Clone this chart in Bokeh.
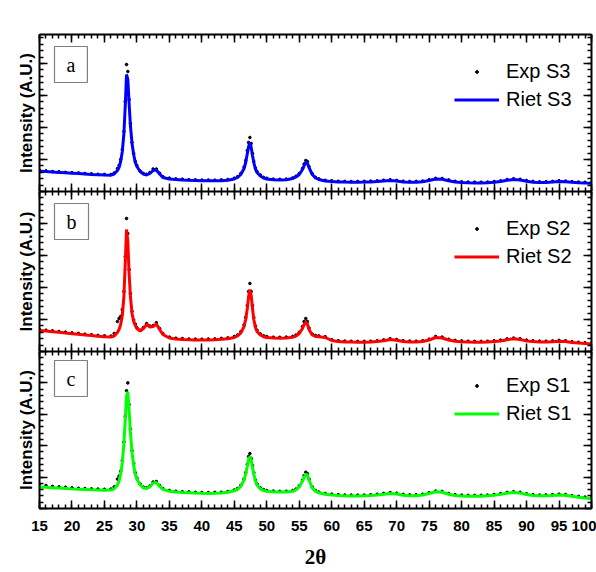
from bokeh.plotting import figure
from bokeh.layouts import column
from bokeh.models import (Range1d, LinearAxis, SingleIntervalTicker, Label, Legend, LegendItem)
from bokeh.embed import file_html
from bokeh.resources import INLINE

two_theta = [15, 16, 17, 18, 19, 20, 21, 22, 23, 24, 25, 26,
             26.5, 27, 27.25, 27.5, 27.75, 28, 28.2, 28.4, 28.6, 28.8, 29, 29.25, 29.5, 29.75, 30,
             30.5, 31, 31.5, 32, 32.5, 33, 33.5, 34, 35,
             36, 37, 38, 39, 40, 41, 42, 43, 44, 45,
             45.5, 46, 46.5, 46.75, 47, 47.2, 47.4, 47.6, 47.8, 48, 48.25, 48.5, 49, 49.5, 50,
             51, 52, 53, 54,
             54.5, 55, 55.5, 55.75, 56, 56.25, 56.5, 57, 57.5, 58,
             59, 60, 61, 62, 63, 64, 65, 66, 67, 68, 69, 70, 71, 72, 73, 74, 75, 76, 77, 78, 79,
             80, 81, 82, 83, 84, 85, 86, 87, 88, 89, 90, 91, 92, 93, 94, 95, 96, 97, 98, 99, 100]

exp_s3 = [21.3, 20.6, 19.9, 19.8, 19.2, 18.9, 18.6, 18.0, 17.8, 17.2, 17.1, 17.0,
          18.5, 23, 26, 32, 42, 60, 90, 127, 120, 92, 68, 49, 38, 30, 26,
          20.5, 18, 17.3, 19, 22.5, 22.5, 18.3, 14.8, 13.4,
          12.6, 12.3, 11.8, 11.7, 11.4, 11.5, 11.3, 11.6, 12, 13.3,
          14.8, 18, 24.5, 31, 41, 49, 54, 48, 38, 30, 23.5, 20, 16.5, 14.2, 13.3,
          12.4, 12.2, 12.5, 13.6,
          15.3, 18, 23, 27.5, 31, 30, 25, 17.8, 14.2, 12.7,
          11.2, 10.8, 10.3, 10.1, 9.9, 10, 10.2, 10.4, 10.7, 11.3, 11.8, 11.1, 10.3, 10, 10.1, 10.5, 11.8, 13.2, 13, 11.6, 10.2,
          9.7, 9.4, 9.4, 9.3, 9.5, 10, 10.7, 12, 12.8, 12.2, 11, 10.1, 9.7, 9.8, 10.1, 10.8, 10.5, 9.9, 9.5, 9.2, 9]
riet_s3 = [20.3, 19.9, 19.5, 19.1, 18.7, 18.3, 17.9, 17.5, 17.1, 16.8, 16.5, 16.3,
           17.5, 21, 24, 30, 40, 58, 85, 117, 112, 88, 66, 48, 37, 29, 25,
           20, 17.5, 16.5, 18, 21, 21.5, 17.5, 14, 12.5,
           12, 11.5, 11.2, 11, 10.8, 10.7, 10.7, 10.8, 11.2, 12.5,
           14, 17, 23, 29, 38, 45, 49, 44, 36, 29, 22.5, 19, 15.5, 13.5, 12.5,
           11.8, 11.5, 11.8, 13,
           14.5, 17, 22, 26, 29, 28.5, 24, 17, 13.5, 12,
           10.5, 10, 9.6, 9.4, 9.3, 9.3, 9.4, 9.6, 10, 10.6, 11, 10.4, 9.6, 9.3, 9.3, 9.8, 11, 12.5, 12.3, 10.8, 9.5,
           9, 8.7, 8.6, 8.6, 8.8, 9.2, 10, 11.2, 12, 11.5, 10.2, 9.3, 9, 9, 9.4, 10, 9.8, 9.2, 8.8, 8.5, 8.3]

exp_s2 = [22, 21.3, 20.7, 20, 19.4, 18.6, 18.1, 17.3, 16.8, 16.1, 15.7, 15.4,
          18, 30, 33, 35, 42, 60, 95, 133, 118, 82, 58, 40, 31.5, 27.5, 24,
          21.3, 24, 28, 25.5, 26, 28.8, 23, 18, 14.4,
          13.3, 12.9, 12.5, 12.4, 12.3, 12.5, 12.6, 13.1, 13.6, 15,
          16.5, 19.8, 26.5, 34, 46, 60, 68, 60, 46, 34, 25.5, 21.2, 17.6, 15.8, 15,
          14.3, 14.2, 14.4, 15.1,
          16.5, 19.2, 25, 30, 33, 30, 23.5, 17.5, 16, 15.6,
          14.8, 11.8, 10.8, 10.4, 10.2, 10.1, 10.2, 10.3, 10.7, 11.6, 12.8, 12, 10.8, 10.4, 10.3, 10.8, 12.3, 15, 14.4, 12.3, 11.1,
          10.6, 10.3, 10.1, 10.1, 10.3, 10.7, 11.4, 12.6, 13.5, 12.8, 11.4, 10.7, 10.4, 10.3, 10.6, 11.1, 10.8, 9.8, 9.2, 8.8, 8.5]
riet_s2 = [21, 20.5, 19.8, 19.2, 18.5, 17.8, 17.2, 16.5, 15.9, 15.3, 14.8, 14.5,
           15.5, 19, 22, 27, 36, 55, 88, 122, 110, 78, 55, 38, 30, 26, 23,
           20.5, 23, 27, 24.5, 25, 27.5, 22, 17, 13.5,
           12.5, 12, 11.7, 11.5, 11.5, 11.6, 11.8, 12.2, 12.8, 14,
           15.5, 18.5, 25, 32, 43, 55, 62, 56, 43, 32, 24, 20, 16.5, 14.8, 14,
           13.5, 13.3, 13.5, 14.3,
           15.5, 18, 23, 27, 29.5, 27.5, 22, 16.5, 15, 14.8,
           14, 11, 10, 9.6, 9.4, 9.3, 9.3, 9.5, 9.9, 10.8, 12, 11.2, 10, 9.6, 9.5, 10, 11.5, 14, 13.5, 11.5, 10.3,
           9.8, 9.5, 9.3, 9.3, 9.5, 9.9, 10.6, 11.8, 12.7, 12, 10.6, 9.9, 9.6, 9.5, 9.8, 10.3, 10, 9, 8.4, 8, 7.7]

exp_s1 = [25, 23.5, 22.5, 22, 21.6, 21, 20.6, 20.3, 20, 19.8, 19.6, 19.8,
          22, 30, 33, 38, 49, 68, 94, 120, 128, 106, 81, 59, 46, 36.5, 31,
          25, 21.8, 21.2, 22.8, 27, 27.5, 23.4, 20.4, 18.4,
          17.6, 17.1, 16.9, 16.5, 16.3, 16.2, 16.4, 16.6, 17.3, 18.8,
          20.4, 23.5, 30, 36.5, 45, 53, 56, 51, 44, 36.5, 29, 25, 21, 19.2, 18.3,
          17.8, 17.5, 17.6, 18.3,
          19.8, 23, 29, 33.5, 37, 35.5, 30, 22, 18.3, 16.8,
          15.3, 14.6, 14.1, 13.8, 13.6, 13.6, 13.7, 14, 14.5, 15.4, 16.2, 15.6, 14.4, 13.9, 13.9, 14.6, 16.1, 17.8, 17.4, 15.3, 14.1,
          13.6, 13.4, 13.3, 13.4, 13.7, 14.3, 15.2, 16.4, 17.1, 16.5, 15, 14.1, 13.8, 13.8, 14.1, 14.6, 14.2, 13.2, 12.3, 11.6, 11.1]
riet_s1 = [22, 21.6, 21.2, 20.8, 20.4, 20, 19.7, 19.4, 19.1, 18.9, 18.7, 18.8,
           20, 24, 28, 35, 47, 66, 90, 115, 119, 100, 78, 57, 44, 35, 30,
           24, 21, 20.5, 22, 26, 26.5, 22.5, 19.5, 17.5,
           16.8, 16.3, 16, 15.7, 15.5, 15.4, 15.5, 15.8, 16.5, 18,
           19.5, 22.5, 29, 35, 43, 50, 53, 49, 42, 35, 28, 24, 20, 18.3, 17.5,
           17, 16.7, 16.8, 17.5,
           19, 22, 28, 32, 35, 34, 29, 21, 17.5, 16,
           14.5, 13.8, 13.3, 13, 12.8, 12.8, 12.9, 13.2, 13.7, 14.6, 15.4, 14.8, 13.6, 13.1, 13.1, 13.8, 15.3, 17, 16.6, 14.5, 13.3,
           12.8, 12.6, 12.5, 12.6, 12.9, 13.5, 14.4, 15.6, 16.3, 15.7, 14.2, 13.3, 13, 13, 13.3, 13.8, 13.4, 12.4, 11.5, 10.8, 10.3]

panels = [
    ("a", "Exp S3", "Riet S3", exp_s3, riet_s3, "#0000ff"),
    ("b", "Exp S2", "Riet S2", exp_s2, riet_s2, "#ff0000"),
    ("c", "Exp S1", "Riet S1", exp_s1, riet_s1, "#00ff00"),
]

SANS = "Liberation Sans"
SERIF = "Liberation Serif"
W = 596
frame_h = [157, 160, 160]
top_b = [34, 0, 0]
bot_b = [0, 0, 60]


def style_axis(ax, xaxis, show_labels=False):
    ax.axis_line_width = 2
    ax.axis_line_color = "black"
    ax.major_tick_in = 8
    ax.major_tick_out = 0
    ax.minor_tick_in = 4
    ax.minor_tick_out = 0
    ax.major_tick_line_width = 1.5
    ax.minor_tick_line_width = 1.5
    ax.major_tick_line_color = "black"
    ax.minor_tick_line_color = "black"
    if xaxis:
        ax.ticker = SingleIntervalTicker(interval=5, num_minor_ticks=5)
    else:
        ax.ticker = SingleIntervalTicker(interval=32, num_minor_ticks=5)
    if show_labels:
        ax.major_label_text_font = SANS
        ax.major_label_text_font_style = "bold"
        ax.major_label_text_font_size = "15px"
        ax.major_label_text_color = "black"
        ax.major_label_standoff = 12
    else:
        ax.major_label_text_font_size = "1px"
        ax.major_label_text_color = None
        ax.major_label_standoff = 0


figs = []
for i, (tag, exp_name, riet_name, exp_y, riet_y, col) in enumerate(panels):
    last = i == 2
    p = figure(width=W, height=top_b[i] + frame_h[i] + bot_b[i],
               x_range=Range1d(15, 100), y_range=Range1d(0, frame_h[i]),
               output_backend="svg", toolbar_location=None,
               x_axis_location=None, y_axis_location=None,
               min_border_left=39, min_border_right=5,
               min_border_top=top_b[i], min_border_bottom=bot_b[i])
    p.outline_line_color = None
    p.grid.visible = False
    p.background_fill_color = "white"
    p.border_fill_color = "white"

    below = LinearAxis()
    style_axis(below, True, show_labels=last)
    if last:
        below.axis_label = "2\u03b8"
        below.axis_label_text_font = SERIF
        below.axis_label_text_font_style = "bold"
        below.axis_label_text_font_size = "21px"
        below.axis_label_standoff = 11
        below.axis_label_text_color = "black"
    p.add_layout(below, "below")
    above = LinearAxis()
    style_axis(above, True)
    p.add_layout(above, "above")

    left = LinearAxis()
    style_axis(left, False)
    left.axis_label = "Intensity (A.U.)"
    left.axis_label_text_font = SANS
    left.axis_label_text_font_style = "bold"
    left.axis_label_text_font_size = "17px"
    left.axis_label_standoff = 4
    left.axis_label_text_color = "black"
    p.add_layout(left, "left")
    right = LinearAxis()
    style_axis(right, False)
    p.add_layout(right, "right")

    r_exp = p.scatter(two_theta, exp_y, size=2.6, color="black", marker="circle")
    r_riet = p.line(two_theta, riet_y, line_color=col, line_width=3)

    legend = Legend(items=[LegendItem(label=exp_name, renderers=[r_exp]),
                           LegendItem(label=riet_name, renderers=[r_riet])],
                    location=(415, frame_h[i] - 79),
                    label_text_font=SANS, label_text_font_size="20px",
                    label_text_color="black",
                    glyph_width=45, glyph_height=7, label_height=27,
                    label_standoff=7, spacing=1, padding=0, margin=0,
                    border_line_color=None, background_fill_alpha=0)
    p.add_layout(legend, "center")

    lab = Label(x=15, y=frame_h[i] - 12, x_units="screen", y_units="screen",
                text=tag, anchor="top_left",
                text_font=SERIF, text_font_size="20px", text_color="black",
                border_line_color="#808080", border_line_width=1.2,
                background_fill_color="white", padding=(12, 7))
    p.add_layout(lab)
    figs.append(p)

layout = column(*figs, spacing=0)
open("out.html", "w").write(file_html(layout, INLINE))
